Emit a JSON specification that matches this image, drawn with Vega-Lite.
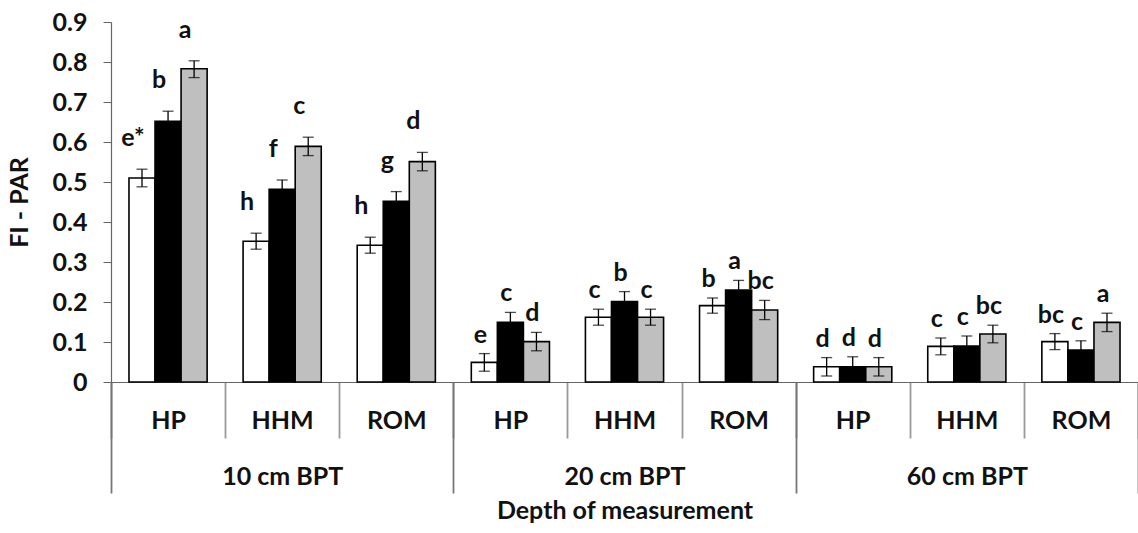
{
  "$schema": "https://vega.github.io/schema/vega-lite/v6.json",
  "width": 1027,
  "height": 360,
  "autosize": {"type": "none"},
  "padding": {"left": 111, "top": 22, "right": 0, "bottom": 151},
  "background": "white",
  "config": {
    "view": {"stroke": null}, "font": "Lato",
    "axisY": {
      "titleFont": "Lato", "titleFontSize": 25, "titleFontWeight": "bold", "titleColor": "#111", "titlePadding": 20,
      "labelOverlap": false, "labelFlush": false,
      "labelFont": "Lato", "labelFontSize": 25, "labelFontWeight": "bold", "labelColor": "#111", "labelPadding": 16,
      "grid": false, "domainColor": "#666", "domainWidth": 1.2, "tickColor": "#666", "tickSize": 8
    }
  },
  "data": {"values": [
    {"depth": "10 cm BPT", "grp": "HP|10", "series": "s1", "value": 0.510, "lo": 0.488, "hi": 0.532, "letter": "e*"},
    {"depth": "10 cm BPT", "grp": "HP|10", "series": "s2", "value": 0.652, "lo": 0.627, "hi": 0.677, "letter": "b"},
    {"depth": "10 cm BPT", "grp": "HP|10", "series": "s3", "value": 0.783, "lo": 0.761, "hi": 0.803, "letter": "a"},
    {"depth": "10 cm BPT", "grp": "HHM|10", "series": "s1", "value": 0.352, "lo": 0.332, "hi": 0.372, "letter": "h"},
    {"depth": "10 cm BPT", "grp": "HHM|10", "series": "s2", "value": 0.482, "lo": 0.459, "hi": 0.505, "letter": "f"},
    {"depth": "10 cm BPT", "grp": "HHM|10", "series": "s3", "value": 0.589, "lo": 0.566, "hi": 0.612, "letter": "c"},
    {"depth": "10 cm BPT", "grp": "ROM|10", "series": "s1", "value": 0.342, "lo": 0.322, "hi": 0.362, "letter": "h"},
    {"depth": "10 cm BPT", "grp": "ROM|10", "series": "s2", "value": 0.452, "lo": 0.428, "hi": 0.476, "letter": "g"},
    {"depth": "10 cm BPT", "grp": "ROM|10", "series": "s3", "value": 0.551, "lo": 0.528, "hi": 0.574, "letter": "d"},
    {"depth": "20 cm BPT", "grp": "HP|20", "series": "s1", "value": 0.049, "lo": 0.027, "hi": 0.071, "letter": "e"},
    {"depth": "20 cm BPT", "grp": "HP|20", "series": "s2", "value": 0.149, "lo": 0.124, "hi": 0.174, "letter": "c"},
    {"depth": "20 cm BPT", "grp": "HP|20", "series": "s3", "value": 0.101, "lo": 0.078, "hi": 0.124, "letter": "d"},
    {"depth": "20 cm BPT", "grp": "HHM|20", "series": "s1", "value": 0.162, "lo": 0.142, "hi": 0.182, "letter": "c"},
    {"depth": "20 cm BPT", "grp": "HHM|20", "series": "s2", "value": 0.201, "lo": 0.176, "hi": 0.226, "letter": "b"},
    {"depth": "20 cm BPT", "grp": "HHM|20", "series": "s3", "value": 0.162, "lo": 0.142, "hi": 0.182, "letter": "c"},
    {"depth": "20 cm BPT", "grp": "ROM|20", "series": "s1", "value": 0.191, "lo": 0.172, "hi": 0.210, "letter": "b"},
    {"depth": "20 cm BPT", "grp": "ROM|20", "series": "s2", "value": 0.230, "lo": 0.206, "hi": 0.254, "letter": "a"},
    {"depth": "20 cm BPT", "grp": "ROM|20", "series": "s3", "value": 0.180, "lo": 0.156, "hi": 0.204, "letter": "bc"},
    {"depth": "60 cm BPT", "grp": "HP|60", "series": "s1", "value": 0.038, "lo": 0.015, "hi": 0.061, "letter": "d"},
    {"depth": "60 cm BPT", "grp": "HP|60", "series": "s2", "value": 0.038, "lo": 0.013, "hi": 0.063, "letter": "d"},
    {"depth": "60 cm BPT", "grp": "HP|60", "series": "s3", "value": 0.038, "lo": 0.015, "hi": 0.061, "letter": "d"},
    {"depth": "60 cm BPT", "grp": "HHM|60", "series": "s1", "value": 0.089, "lo": 0.068, "hi": 0.110, "letter": "c"},
    {"depth": "60 cm BPT", "grp": "HHM|60", "series": "s2", "value": 0.090, "lo": 0.065, "hi": 0.115, "letter": "c"},
    {"depth": "60 cm BPT", "grp": "HHM|60", "series": "s3", "value": 0.120, "lo": 0.098, "hi": 0.142, "letter": "bc"},
    {"depth": "60 cm BPT", "grp": "ROM|60", "series": "s1", "value": 0.101, "lo": 0.081, "hi": 0.121, "letter": "bc"},
    {"depth": "60 cm BPT", "grp": "ROM|60", "series": "s2", "value": 0.080, "lo": 0.057, "hi": 0.103, "letter": "c"},
    {"depth": "60 cm BPT", "grp": "ROM|60", "series": "s3", "value": 0.149, "lo": 0.126, "hi": 0.172, "letter": "a"}
  ]},
  "resolve": {"scale": {"x": "independent"}, "axis": {"x": "independent"}},
  "layer": [
    {
      "layer": [
        {
          "mark": {"type": "bar", "stroke": "black", "strokeWidth": 1.6},
          "encoding": {
            "x": {
              "field": "grp", "type": "nominal", "sort": null,
              "scale": {"paddingInner": 0, "paddingOuter": 0},
              "axis": {
                "orient": "bottom", "title": null, "labelAngle": 0,
                "labelExpr": "split(datum.label, '|')[0]",
                "labelFont": "Lato", "labelFontSize": 25, "labelFontWeight": "bold", "labelColor": "#111", "labelBaseline": "middle",
                "domainColor": "#666", "domainWidth": 1.2,
                "tickColor": "#999", "tickWidth": 1.8, "tickSize": 56, "tickBand": "extent",
                "labelPadding": -18
              }
            },
            "xOffset": {"field": "series", "type": "nominal", "scale": {"domain": ["s1", "s2", "s3"], "paddingInner": 0, "paddingOuter": 0.69}},
            "y": {
              "field": "value", "type": "quantitative",
              "scale": {"domain": [0, 0.9], "nice": false},
              "axis": {"title": "FI - PAR", "values": [0, 0.1, 0.2, 0.3, 0.4, 0.5, 0.6, 0.7, 0.8, 0.9], "labelExpr": "datum.value == 0 ? '0' : format(datum.value, '.1f')"}
            },
            "fill": {"field": "series", "type": "nominal", "scale": {"domain": ["s1", "s2", "s3"], "range": ["#ffffff", "#000000", "#bfbfbf"]}, "legend": null}
          }
        },
        {
          "mark": {"type": "rule", "stroke": "black", "strokeWidth": 1.3},
          "encoding": {
            "x": {"field": "grp", "type": "nominal", "sort": null},
            "xOffset": {"field": "series", "type": "nominal"},
            "y": {"field": "lo", "type": "quantitative", "axis": {"title": "FI - PAR", "values": [0, 0.1, 0.2, 0.3, 0.4, 0.5, 0.6, 0.7, 0.8, 0.9], "labelExpr": "datum.value == 0 ? '0' : format(datum.value, '.1f')"}},
            "y2": {"field": "hi"}
          }
        },
        {
          "mark": {"type": "tick", "color": "black", "size": 11, "thickness": 1.3},
          "encoding": {
            "x": {"field": "grp", "type": "nominal", "sort": null},
            "xOffset": {"field": "series", "type": "nominal"},
            "y": {"field": "lo", "type": "quantitative", "axis": {"title": "FI - PAR", "values": [0, 0.1, 0.2, 0.3, 0.4, 0.5, 0.6, 0.7, 0.8, 0.9], "labelExpr": "datum.value == 0 ? '0' : format(datum.value, '.1f')"}}
          }
        },
        {
          "mark": {"type": "tick", "color": "black", "size": 11, "thickness": 1.3},
          "encoding": {
            "x": {"field": "grp", "type": "nominal", "sort": null},
            "xOffset": {"field": "series", "type": "nominal"},
            "y": {"field": "hi", "type": "quantitative", "axis": {"title": "FI - PAR", "values": [0, 0.1, 0.2, 0.3, 0.4, 0.5, 0.6, 0.7, 0.8, 0.9], "labelExpr": "datum.value == 0 ? '0' : format(datum.value, '.1f')"}}
          }
        },
        {
          "transform": [{"filter": "datum.depth == '10 cm BPT'"}],
          "mark": {"type": "text", "font": "Lato", "fontSize": 25, "fontWeight": "bold", "color": "#111", "baseline": "middle", "dy": -31, "dx": -9},
          "encoding": {
            "x": {"field": "grp", "type": "nominal", "sort": null},
            "xOffset": {"field": "series", "type": "nominal"},
            "y": {"field": "hi", "type": "quantitative", "axis": {"title": "FI - PAR", "values": [0, 0.1, 0.2, 0.3, 0.4, 0.5, 0.6, 0.7, 0.8, 0.9], "labelExpr": "datum.value == 0 ? '0' : format(datum.value, '.1f')"}},
            "text": {"field": "letter"}
          }
        },
        {
          "transform": [{"filter": "datum.depth != '10 cm BPT'"}],
          "mark": {"type": "text", "font": "Lato", "fontSize": 25, "fontWeight": "bold", "color": "#111", "baseline": "middle", "dy": -19, "dx": -4},
          "encoding": {
            "x": {"field": "grp", "type": "nominal", "sort": null},
            "xOffset": {"field": "series", "type": "nominal"},
            "y": {"field": "hi", "type": "quantitative", "axis": {"title": "FI - PAR", "values": [0, 0.1, 0.2, 0.3, 0.4, 0.5, 0.6, 0.7, 0.8, 0.9], "labelExpr": "datum.value == 0 ? '0' : format(datum.value, '.1f')"}},
            "text": {"field": "letter"}
          }
        }
      ]
    },
    {
      "mark": {"type": "tick", "opacity": 0},
      "encoding": {
        "x": {
          "field": "depth", "type": "nominal", "sort": null,
          "scale": {"paddingInner": 0, "paddingOuter": 0},
          "axis": {
            "orient": "bottom", "title": "Depth of measurement", "labelAngle": 0,
            "titleFont": "Lato", "titleFontSize": 25, "titleFontWeight": "bold", "titleColor": "#111", "titlePadding": 5,
            "labelFont": "Lato", "labelFontSize": 25, "labelFontWeight": "bold", "labelColor": "#111", "labelBaseline": "middle",
            "domainColor": "#666", "domainWidth": 1.2,
            "tickColor": "#777", "tickWidth": 1.8, "tickSize": 111, "tickBand": "extent",
            "labelPadding": -17
          }
        }
      }
    }
  ]
}
